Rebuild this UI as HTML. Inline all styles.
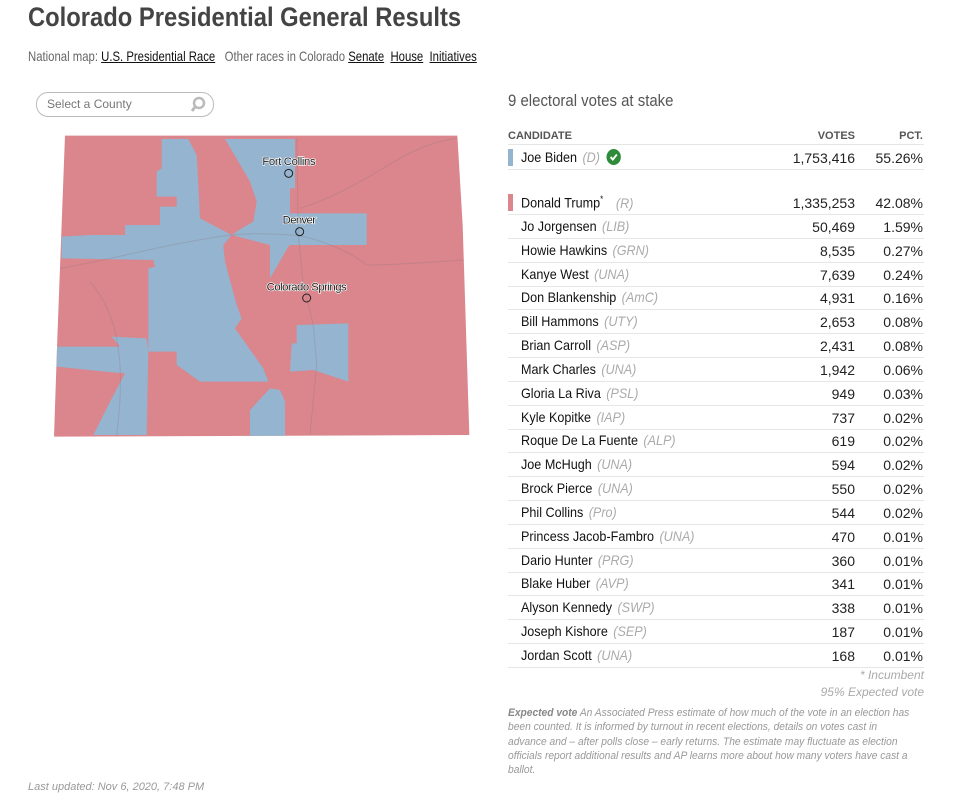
<!DOCTYPE html>
<html><head><meta charset="utf-8"><style>
body{margin:0;width:975px;height:806px;background:#fff;font-family:"Liberation Sans Narrow","Liberation Sans",sans-serif;color:#222;position:relative;overflow:hidden}
.a{position:absolute;white-space:nowrap}
h1{position:absolute;left:28px;top:2px;margin:0;font-size:27px;font-weight:bold;color:#444;transform:scaleX(0.88);transform-origin:0 0}
.nav{left:28px;top:48px;font-size:14px;color:#666;transform:scaleX(0.81);transform-origin:0 0}
.nav u{color:#111;text-decoration:underline}
.sel{left:36px;top:92px;width:176px;height:23px;border:1px solid #bbb;border-radius:12px;font-size:12px;color:#777}
.row{position:absolute;left:508px;width:416px;height:24px;border-bottom:1px solid #e6e6e6;font-size:14px}
.row .n{position:absolute;left:13px;top:4px;color:#111;transform:scaleX(0.9);transform-origin:0 0}
.row .p{color:#aaa;font-style:italic;margin-left:6px}
.row .v{position:absolute;right:69px;top:5px}
.row .c{position:absolute;right:1px;top:5px}
.bar{position:absolute;left:0;top:4px;width:5px;height:17px}
</style></head><body>
<h1>Colorado Presidential General Results</h1>
<div class="a nav">National map: <u>U.S. Presidential Race</u>&nbsp;&nbsp; Other races in Colorado <u>Senate</u>&nbsp; <u>House</u>&nbsp; <u>Initiatives</u></div>
<div class="a sel"><span style="position:absolute;left:10px;top:4px">Select a County</span>
<svg style="position:absolute;right:6px;top:3px" width="17" height="17"><circle cx="9" cy="7" r="5" fill="none" stroke="#bbb" stroke-width="2.5"/><line x1="5" y1="11" x2="2" y2="15" stroke="#bbb" stroke-width="3"/></svg></div>

<svg class="a" style="left:50px;top:125px" width="430" height="320" viewBox="0 0 1290 960">
<defs><clipPath id="co"><polygon points="45,32 1222,32 1238,300 1258,930 12,935 22,640"/></clipPath></defs>
<polygon points="45,32 1222,32 1238,300 1258,930 12,935 22,640" fill="#db858c"/>
<g clip-path="url(#co)" fill="#94b4cf">
<polygon points="335,42 415,42 440,90 445,180 450,280 545,330 520,360 525,410 560,540 575,580 555,610 640,730 655,770 450,770 380,720 380,680 295,680 295,430 315,425 310,405 35,400 35,335 120,330 225,330 225,300 330,300 330,245 380,245 380,215 320,215 320,140 335,130"/>
<polygon points="525,42 735,42 735,190 720,190 720,265 950,265 950,360 720,360 715,365 660,460 660,360 545,330 575,310 610,290 620,230 600,170"/>
<polygon points="740,600 895,595 895,770 790,735 720,740 725,655 740,655"/>
<polygon points="185,635 290,640 295,680 290,930 130,930 175,840 225,745 165,740 20,725 20,665 210,665"/>
<polygon points="600,855 660,790 690,795 705,830 705,935 600,935"/>
</g>
<g clip-path="url(#co)" fill="none" stroke="#8a7a80" stroke-opacity="0.3" stroke-width="3">
<path d="M30,430 C200,400 300,370 420,350 C520,330 600,320 720,330 C800,335 900,380 950,420 C1050,420 1150,410 1240,405"/>
<path d="M740,40 L745,330 L760,480 L790,600 L800,720 L780,930"/>
<path d="M750,250 C850,220 950,160 1050,100 C1120,60 1180,45 1220,40"/>
<path d="M120,470 C200,560 230,700 200,930"/>
</g>
<g font-family="Liberation Sans Narrow,Liberation Sans,sans-serif" font-size="34" fill="#222" stroke="#fff" stroke-width="4" paint-order="stroke" text-anchor="middle">
<text x="717" y="120" textLength="160">Fort Collins</text><text x="748" y="295" textLength="100">Denver</text><text x="770" y="497" textLength="240">Colorado Springs</text></g>
<g fill="none" stroke="#222" stroke-width="3"><circle cx="716" cy="145" r="12"/><circle cx="749" cy="320" r="12"/><circle cx="770" cy="519" r="12"/></g>
</svg>

<div class="a" style="left:508px;top:91px;font-size:17px;color:#555;transform:scaleX(0.88);transform-origin:0 0">9 electoral votes at stake</div>
<div class="a" style="left:508px;top:130px;width:416px;font-size:11px;font-weight:bold;color:#555;height:14px;border-bottom:1px solid #e6e6e6"><span style="position:absolute;left:0">CANDIDATE</span><span style="position:absolute;right:69px">VOTES</span><span style="position:absolute;right:1px">PCT.</span></div>
<div class="row" style="top:145px"><div class="bar" style="background:#94b4cf"></div><div class="n">Joe Biden<span class="p">(D)</span> <svg width="16" height="16" style="vertical-align:-3px;margin-left:3px"><circle cx="8" cy="8" r="8" fill="#2e8b3a"/><path d="M4.5,8 L7,10.5 L11.5,5.5" stroke="#fff" stroke-width="2" fill="none"/></svg></div><div class="v">1,753,416</div><div class="c">55.26%</div></div>
<div class="row" style="top:190px"><div class="bar" style="background:#db858c"></div><div class="n">Donald Trump<sup style="font-size:9px">*</sup><span class="p" style="margin-left:14px">(R)</span></div><div class="v">1,335,253</div><div class="c">42.08%</div></div>
<div id="rows"></div>
<div class="a" style="right:51px;top:668px;font-size:12px;color:#aaa;font-style:italic">* Incumbent</div>
<div class="a" style="right:51px;top:685px;font-size:12px;color:#aaa;font-style:italic">95% Expected vote</div>
<div class="a" style="left:508px;top:706px;font-size:11px;line-height:14.3px;color:#999;font-style:italic;transform:scaleX(0.93);transform-origin:0 0">
<b style="color:#888">Expected vote</b> An Associated Press estimate of how much of the vote in an election has<br>been counted. It is informed by turnout in recent elections, details on votes cast in<br>advance and – after polls close – early returns. The estimate may fluctuate as election<br>officials report additional results and AP learns more about how many voters have cast a<br>ballot.</div>
<div class="a" style="left:28px;top:781px;font-size:11px;color:#999;font-style:italic">Last updated: Nov 6, 2020, 7:48 PM</div>
<script>
var d=[["Jo Jorgensen","LIB","50,469","1.59%"],["Howie Hawkins","GRN","8,535","0.27%"],["Kanye West","UNA","7,639","0.24%"],["Don Blankenship","AmC","4,931","0.16%"],["Bill Hammons","UTY","2,653","0.08%"],["Brian Carroll","ASP","2,431","0.08%"],["Mark Charles","UNA","1,942","0.06%"],["Gloria La Riva","PSL","949","0.03%"],["Kyle Kopitke","IAP","737","0.02%"],["Roque De La Fuente","ALP","619","0.02%"],["Joe McHugh","UNA","594","0.02%"],["Brock Pierce","UNA","550","0.02%"],["Phil Collins","Pro","544","0.02%"],["Princess Jacob-Fambro","UNA","470","0.01%"],["Dario Hunter","PRG","360","0.01%"],["Blake Huber","AVP","341","0.01%"],["Alyson Kennedy","SWP","338","0.01%"],["Joseph Kishore","SEP","187","0.01%"],["Jordan Scott","UNA","168","0.01%"]];
var h="";d.forEach(function(r,i){h+='<div class="row" style="top:'+(214+i*23.83)+'px"><div class="n">'+r[0]+'<span class="p">('+r[1]+')</span></div><div class="v">'+r[2]+'</div><div class="c">'+r[3]+'</div></div>';});
document.getElementById("rows").innerHTML=h;
</script>
</body></html>
